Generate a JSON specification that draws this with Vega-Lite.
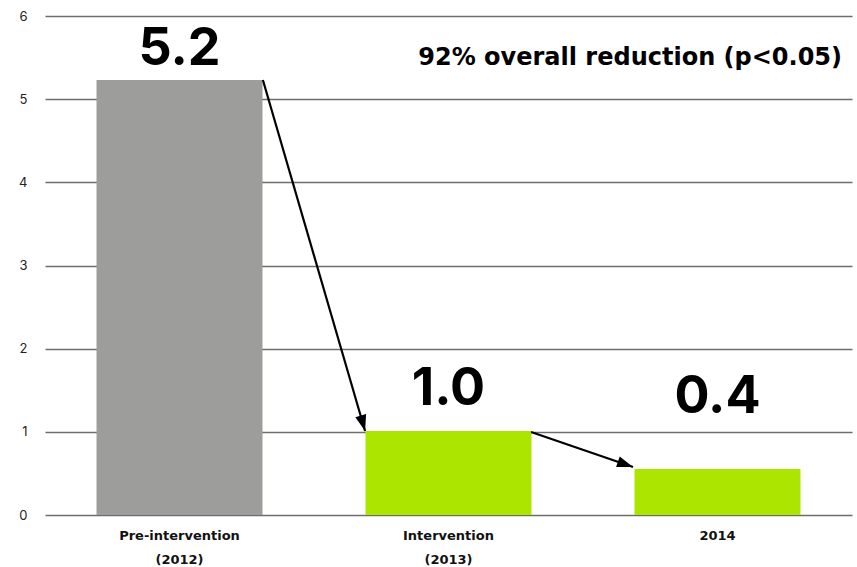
{
  "$schema": "https://vega.github.io/schema/vega-lite/v6.json",
  "width": 807,
  "height": 499,
  "autosize": {"type": "none"},
  "padding": {"left": 45, "top": 16, "right": 5, "bottom": 52},
  "background": "white",
  "config": {
    "view": {"stroke": null},
    "font": "Inter",
    "axis": {"labelFont": "Inter"}
  },
  "datasets": {
    "bars": [
      {"period": "Pre-intervention (2012)", "value": 5.23, "label": "5.2", "labelAt": 5.41, "phase": "pre"},
      {"period": "Intervention (2013)", "value": 1.01, "label": "1.0", "labelAt": 1.32, "phase": "post"},
      {"period": "2014", "value": 0.553, "label": "0.4", "labelAt": 1.23, "phase": "post"}
    ],
    "arrows": [
      {"arrow": "a1", "x": 0.810, "y": 5.23, "x2": 1.190, "y2": 1.01},
      {"arrow": "a2", "x": 1.807, "y": 0.998, "x2": 2.186, "y2": 0.577}
    ],
    "note": [
      {"text": "92% overall reduction (p<0.05)", "x": 2.963, "y": 5.41}
    ]
  },
  "resolve": {"scale": {"x": "independent"}},
  "layer": [
    {
      "data": {"name": "bars"},
      "layer": [
        {
          "mark": {"type": "bar"},
          "encoding": {
            "x": {
              "field": "period", "type": "nominal", "sort": null,
              "scale": {"paddingInner": 0.383, "paddingOuter": 0.1915},
              "axis": {
                "title": null, "ticks": false, "domain": false, "labelAngle": 0,
                "labelExpr": "split(datum.label, ' ')",
                "labelFont": "DejaVu Sans",
                "labelFontWeight": "bold", "labelFontSize": 13, "labelColor": "#111",
                "labelLineHeight": 24, "labelPadding": 14
              }
            },
            "y": {
              "field": "value", "type": "quantitative",
              "scale": {"domain": [0, 6], "nice": false},
              "axis": {
                "title": null, "values": [0, 1, 2, 3, 4, 5, 6], "format": "d", "ticks": false, "domain": false,
                "labelFontSize": 13, "labelColor": "#222", "labelPadding": 18,
                "grid": true, "gridColor": "#6e6e6e", "gridWidth": 1.3
              }
            },
            "color": {
              "field": "phase", "type": "nominal",
              "scale": {"domain": ["pre", "post"], "range": ["#9d9d9c", "#ace600"]},
              "legend": null
            }
          }
        },
        {
          "mark": {"type": "text", "fontSize": 52, "fontWeight": "bold", "baseline": "alphabetic", "align": "center", "color": "#000"},
          "encoding": {
            "x": {"field": "period", "type": "nominal", "sort": null},
            "y": {"field": "labelAt", "type": "quantitative"},
            "text": {"field": "label"}
          }
        }
      ]
    },
    {
      "data": {"name": "arrows"},
      "mark": {"type": "rule", "strokeWidth": 2.2, "color": "#000"},
      "encoding": {
        "x": {"field": "x", "type": "quantitative", "scale": {"domain": [0, 3], "nice": false}, "axis": null},
        "x2": {"field": "x2"},
        "y": {"field": "y", "type": "quantitative"},
        "y2": {"field": "y2"}
      }
    },
    {
      "data": {"name": "arrows"},
      "mark": {"type": "point", "filled": true, "opacity": 1, "color": "#000", "size": 256,
               "shape": "M0,0L0.7,2L-0.7,2Z"},
      "encoding": {
        "x": {"field": "x2", "type": "quantitative", "scale": {"domain": [0, 3], "nice": false}, "axis": null},
        "y": {"field": "y2", "type": "quantitative"},
        "angle": {"condition": {"test": "datum.arrow === 'a1'", "value": 164}, "value": 109}
      }
    },
    {
      "data": {"name": "note"},
      "mark": {"type": "text", "font": "DejaVu Sans", "fontSize": 24, "fontWeight": "bold", "align": "right", "baseline": "alphabetic", "color": "#000"},
      "encoding": {
        "x": {"field": "x", "type": "quantitative", "scale": {"domain": [0, 3], "nice": false}, "axis": null},
        "y": {"field": "y", "type": "quantitative"},
        "text": {"field": "text"}
      }
    }
  ]
}
